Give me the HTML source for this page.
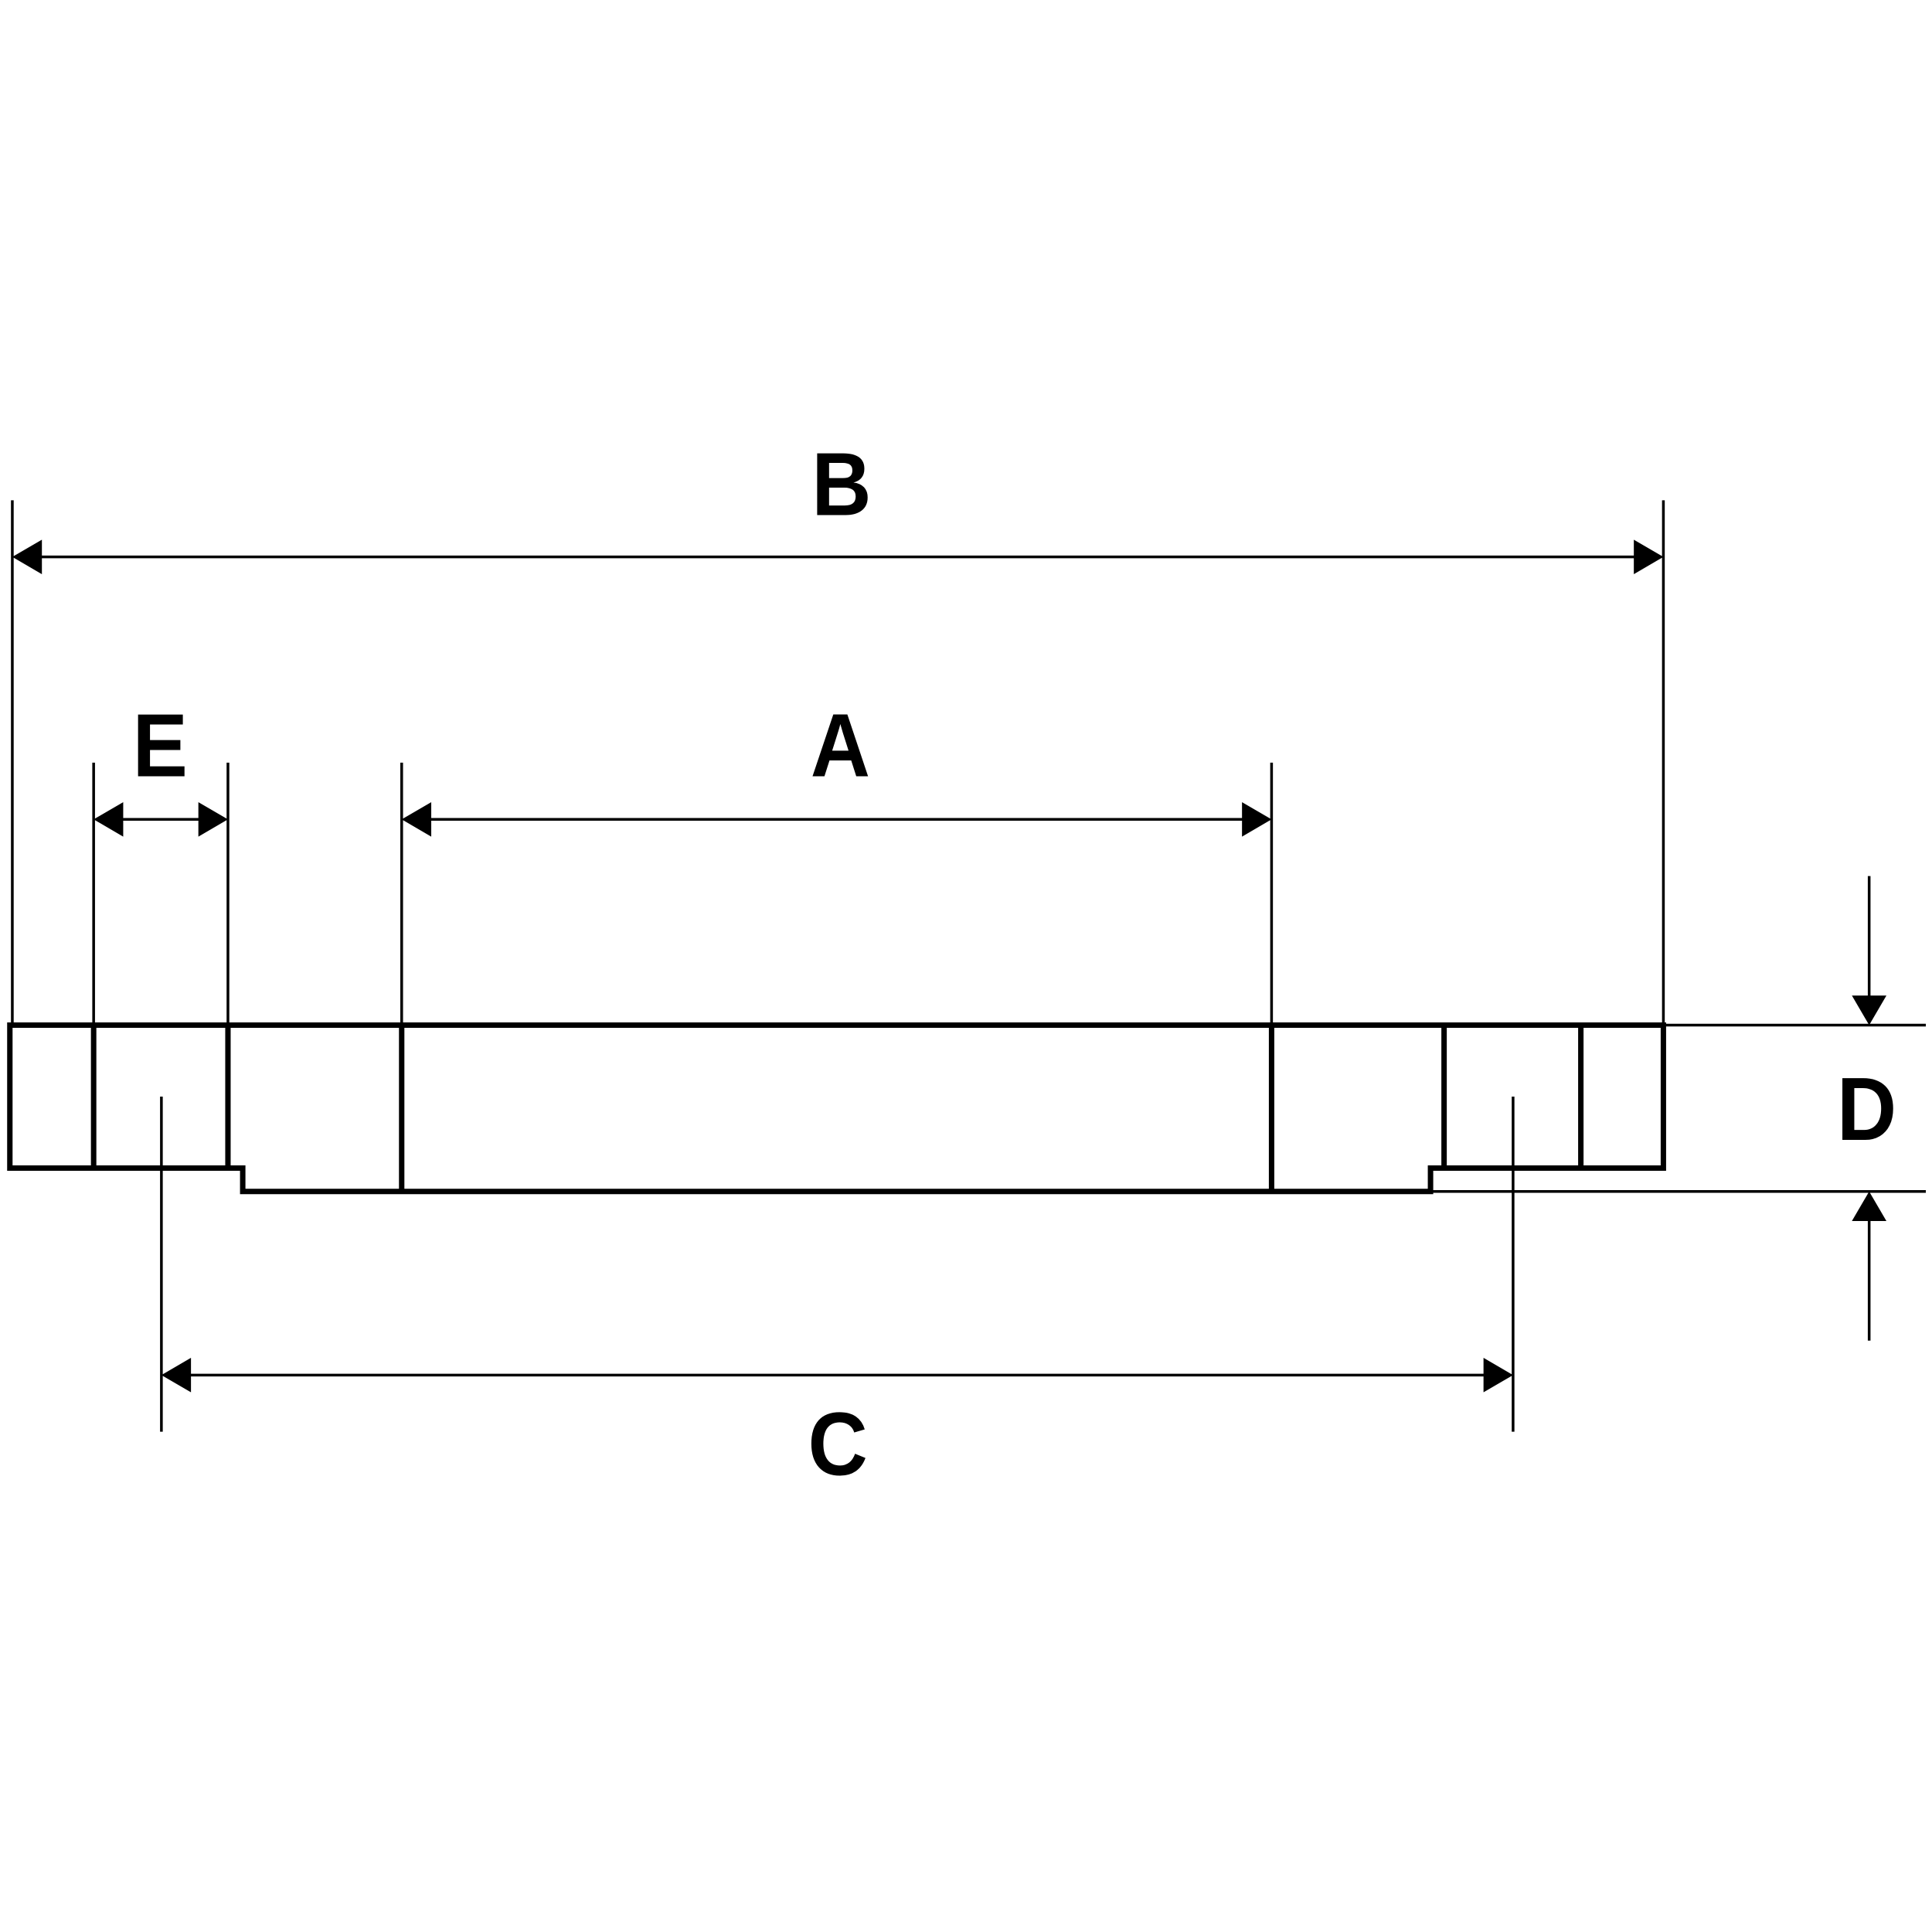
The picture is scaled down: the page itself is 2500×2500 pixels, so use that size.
<!DOCTYPE html>
<html>
<head>
<meta charset="utf-8">
<style>
html,body{margin:0;padding:0;background:#fff;}
svg{display:block;}
text{font-family:"Liberation Sans",sans-serif;font-weight:bold;font-size:73px;fill:#000;}
</style>
</head>
<body>
<svg width="2500" height="2500" viewBox="0 0 1568 1568" xmlns="http://www.w3.org/2000/svg">
<g stroke="#000" fill="none">
  <g stroke-width="2.2">
    <line x1="10" y1="406" x2="10" y2="832"/>
    <line x1="1350" y1="406" x2="1350" y2="832"/>
    <line x1="76" y1="619" x2="76" y2="832"/>
    <line x1="185" y1="619" x2="185" y2="832"/>
    <line x1="326" y1="619" x2="326" y2="832"/>
    <line x1="1032" y1="619" x2="1032" y2="832"/>
    <line x1="131" y1="890" x2="131" y2="1162"/>
    <line x1="1228" y1="890" x2="1228" y2="1162"/>
    <line x1="1350" y1="832" x2="1563" y2="832"/>
    <line x1="1161" y1="967" x2="1563" y2="967"/>
    <line x1="20" y1="452" x2="1340" y2="452"/>
    <line x1="336" y1="665" x2="1022" y2="665"/>
    <line x1="86" y1="665" x2="175" y2="665"/>
    <line x1="141" y1="1116" x2="1218" y2="1116"/>
    <line x1="1517" y1="711" x2="1517" y2="812"/>
    <line x1="1517" y1="987" x2="1517" y2="1088"/>
  </g>
  <g stroke-width="4.4">
    <path d="M8 832 H1350 V948 H1161 V967 H197 V948 H8 Z"/>
    <line x1="76" y1="832" x2="76" y2="948"/>
    <line x1="185" y1="832" x2="185" y2="948"/>
    <line x1="326" y1="832" x2="326" y2="967"/>
    <line x1="1032" y1="832" x2="1032" y2="967"/>
    <line x1="1172" y1="832" x2="1172" y2="948"/>
    <line x1="1283" y1="832" x2="1283" y2="948"/>
  </g>
</g>
<g fill="#000">
  <polygon points="10,452 34,438 34,466"/>
  <polygon points="1350,452 1326,438 1326,466"/>
  <polygon points="326,665 350,651 350,679"/>
  <polygon points="1032,665 1008,651 1008,679"/>
  <polygon points="76,665 100,651 100,679"/>
  <polygon points="185,665 161,651 161,679"/>
  <polygon points="131,1116 155,1102 155,1130"/>
  <polygon points="1228,1116 1204,1102 1204,1130"/>
  <polygon points="1517,832 1503,808 1531,808"/>
  <polygon points="1517,967 1503,991 1531,991"/>
</g>
<g text-anchor="middle">
  <text x="683" y="418" transform="translate(683 0) scale(0.92 1) translate(-683 0)">B</text>
  <text x="682" y="630" transform="translate(682 0) scale(0.92 1) translate(-682 0)">A</text>
  <text x="130" y="630" transform="translate(130 0) scale(0.92 1) translate(-130 0)">E</text>
  <text x="680" y="1197" transform="translate(680 0) scale(0.92 1) translate(-680 0)">C</text>
  <text x="1515" y="925" transform="translate(1515 0) scale(0.92 1) translate(-1515 0)">D</text>
</g>
</svg>
</body>
</html>
